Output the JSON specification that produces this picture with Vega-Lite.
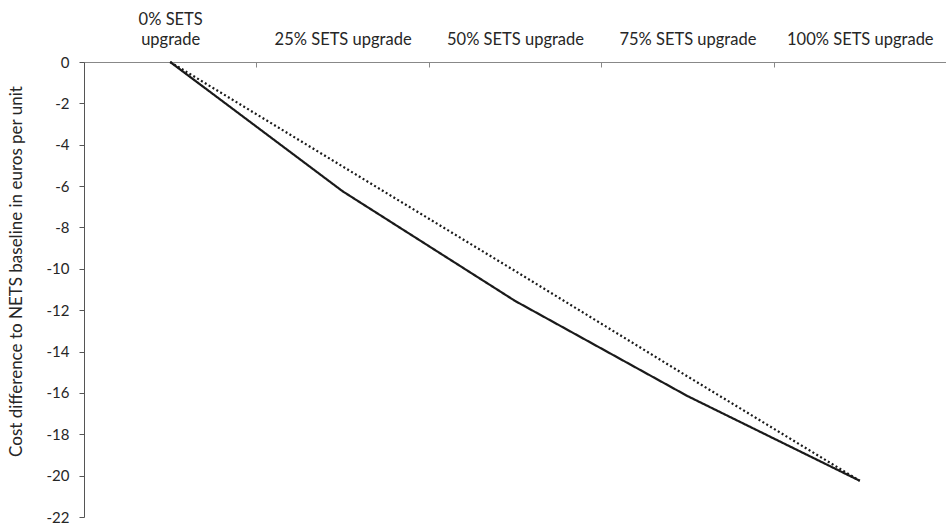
{
  "$schema": "https://vega.github.io/schema/vega-lite/v6.json",
  "width": 862,
  "height": 455,
  "autosize": {"type": "none"},
  "padding": {"left": 84, "top": 62, "right": 0, "bottom": 8},
  "background": "white",
  "config": {
    "view": {"stroke": null},
    "font": "Lato",
    "axis": {"labelFont": "Lato", "titleFont": "Lato", "labelColor": "#262626", "titleColor": "#262626", "labelFontSize": 16.5, "titleFontSize": 17, "titleFontWeight": "normal", "grid": false}
  },
  "data": {
    "values": [
      {"scenario": "0% SETS upgrade", "series": "solid", "cost": 0},
      {"scenario": "25% SETS upgrade", "series": "solid", "cost": -6.25},
      {"scenario": "50% SETS upgrade", "series": "solid", "cost": -11.55},
      {"scenario": "75% SETS upgrade", "series": "solid", "cost": -16.15},
      {"scenario": "100% SETS upgrade", "series": "solid", "cost": -20.25},
      {"scenario": "0% SETS upgrade", "series": "dotted", "cost": 0},
      {"scenario": "25% SETS upgrade", "series": "dotted", "cost": -5.05},
      {"scenario": "50% SETS upgrade", "series": "dotted", "cost": -10.1},
      {"scenario": "75% SETS upgrade", "series": "dotted", "cost": -15.2},
      {"scenario": "100% SETS upgrade", "series": "dotted", "cost": -20.25}
    ]
  },
  "encoding": {
    "x": {
      "field": "scenario",
      "type": "nominal",
      "sort": null,
      "scale": {"paddingInner": 0, "paddingOuter": 0},
      "axis": {
        "orient": "top",
        "title": null,
        "labelAngle": 0,
        "tickBand": "extent",
        "tickSize": -5,
        "labelPadding": 56,
        "labelBaseline": "top",
        "labelLineHeight": 20,
        "domainColor": "#888888",
        "tickColor": "#888888",
        "labelExpr": "datum.value == '0% SETS upgrade' ? ['0% SETS', 'upgrade'] : ['', datum.value]"
      }
    },
    "y": {
      "field": "cost",
      "type": "quantitative",
      "scale": {"domain": [-22, 0], "nice": false, "zero": false},
      "axis": {
        "values": [0, -2, -4, -6, -8, -10, -12, -14, -16, -18, -20, -22],
        "labelExpr": "datum.value + ''",
        "labelFontSize": 15,
        "title": "Cost difference to NETS baseline in euros per unit",
        "titleX": -68,
        "titleY": 209,
        "titleAlign": "center",
        "titleBaseline": "middle",
        "tickSize": 5,
        "labelPadding": 10,
        "domainColor": "#555555",
        "tickColor": "#555555",
        "domain": true
      }
    },
    "strokeDash": {
      "field": "series",
      "type": "nominal",
      "scale": {"domain": ["solid", "dotted"], "range": [[1, 0], [2, 2.5]]},
      "legend": null
    }
  },
  "mark": {"type": "line", "color": "#1a1a1a", "strokeWidth": 2.2}
}
